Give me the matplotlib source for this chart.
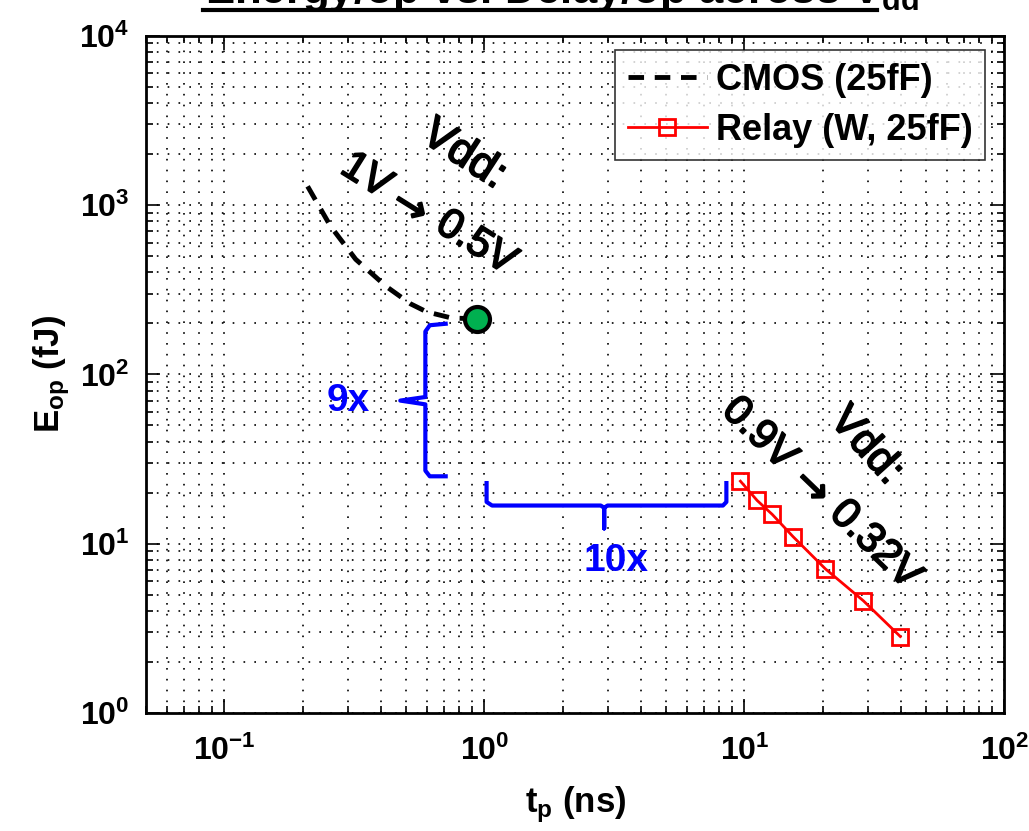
import matplotlib
matplotlib.use("Agg")
import matplotlib.pyplot as plt
import matplotlib.patheffects as pe
from matplotlib.lines import Line2D

plt.rcParams['font.family'] = ['Liberation Sans', 'DejaVu Sans']
plt.rcParams['mathtext.fontset'] = 'custom'
plt.rcParams['mathtext.rm'] = 'Liberation Sans:bold'
plt.rcParams['mathtext.it'] = 'Liberation Sans:bold'
plt.rcParams['mathtext.bf'] = 'Liberation Sans:bold'

# CMOS (25fF): Vdd 1V -> 0.5V
cmos_tp = [0.209, 0.256, 0.32, 0.42, 0.52, 0.60, 0.75, 0.94]
cmos_e = [1290, 750, 478, 330, 261, 234, 215, 213]
# optimal point
opt_tp = [0.94]
opt_e = [213]
# Relay (W, 25fF): Vdd 0.9V -> 0.32V
relay_tp = [9.66, 11.2, 12.8, 15.4, 20.5, 28.7, 39.8]
relay_e = [23.4, 18.0, 14.9, 11.0, 7.1, 4.6, 2.83]

# bracket extents (data units)
v_brace_e = [199, 70, 25]
h_brace_t = [1.02, 2.89, 8.53]

W, H = 1029, 831
fig = plt.figure(figsize=(W / 100, H / 100), dpi=100)
ax = fig.add_axes([0.142, 0.142, 0.834, 0.815])


def px(x, y):
    return x / W, 1 - y / H


ax.loglog(cmos_tp, cmos_e, color='black', lw=3.5, dashes=(3.2, 2.2),
          label='CMOS (25fF)', zorder=3)
ax.loglog(relay_tp, relay_e, color='red', lw=2, marker='s', ms=11,
          mfc='none', mec='red', mew=2, label='Relay (W, 25fF)', zorder=3)
ax.plot(opt_tp, opt_e, 'o', ms=18, mfc='#00b050', mec='black', mew=3,
        zorder=4)

ax.set_xlim(0.05, 100)
ax.set_ylim(1, 1e4)

ax.grid(True, which='both', color='black', lw=1.2, ls=(0, (1, 5.5)))
ax.tick_params(which='both', direction='in', top=True, right=True,
               labelsize=23, width=1.2)
ax.tick_params(which='major', length=10)
ax.tick_params(axis='x', which='major', pad=16)
ax.tick_params(axis='y', which='major', pad=12)
ax.tick_params(which='minor', length=5)
for lab in ax.get_xticklabels() + ax.get_yticklabels():
    lab.set_fontweight('bold')
for sp in ax.spines.values():
    sp.set_linewidth(2)

ax.set_xlabel(r'$\mathbf{t_p}$ (ns)', fontsize=25, fontweight='bold',
              labelpad=13)
ax.set_ylabel(r'$\mathbf{E_{op}}$ (fJ)', fontsize=25, fontweight='bold',
              labelpad=5)

leg = ax.legend(loc='upper right', bbox_to_anchor=(0.978, 0.979),
                borderaxespad=0, frameon=True, fancybox=False,
                edgecolor='black', handlelength=2.2, handletextpad=0.25,
                borderpad=0.35, labelspacing=0.42,
                prop={'weight': 'bold', 'size': 26})
leg.get_frame().set_linewidth(1.2)
leg.set_zorder(5)

# Vdd annotations (pixel centres of each piece)
cmos_rot, relay_rot = -32, -44
heavy = [pe.withStroke(linewidth=1.3, foreground='black')]
for s, (x, y), r, size, fam in [
        ('Vdd:', (464, 155), -33, 32, None),
        ('1V', (366, 176), cmos_rot, 30, None),
        ('\u2192', (410, 207), cmos_rot, 30, 'DejaVu Sans'),
        ('0.5V', (476, 243), cmos_rot, 30, None),
        ('Vdd:', (866, 446), -48, 31, None),
        ('0.9V', (759, 434), relay_rot, 30, None),
        ('\u2192', (812, 487), relay_rot, 30, 'DejaVu Sans'),
        ('0.32V', (875, 545), relay_rot, 30, None)]:
    kw = {'family': fam} if fam else {}
    fig.text(*px(x, y), s, fontsize=size, rotation=r, ha='center',
             va='center', rotation_mode='anchor', path_effects=heavy, **kw)

# vertical brace (9x)
top, mid, bot = v_brace_e
xv, xo, xn = 0.593, 0.71, 0.475
ax.plot([xo, xv * 1.04, xv, xv, xn, xv, xv, xv * 1.04, xo],
        [top, top * 0.98, top * 0.9, mid * 1.05, mid, mid * 0.95,
         bot * 1.08, bot, bot], color='blue', lw=3, zorder=3)
ax.text(0.30, mid, '9x', color='blue', fontsize=28, fontweight='bold',
        ha='center', va='center')

# horizontal brace (10x)
left, cen, right = h_brace_t
yo, yh, yn = 22.8, 16.8, 12.3
ax.plot([left, left, left * 1.05, cen * 0.97, cen, cen, cen, cen * 1.03,
         right * 0.97, right, right],
        [yo, yh * 1.05, yh, yh, yh * 0.97, yn, yh * 0.97, yh, yh,
         yh * 1.05, yo], color='blue', lw=3, zorder=3)
ax.text(3.2, 7.9, '10x', color='blue', fontsize=28, fontweight='bold',
        ha='center', va='center')

# title (cut off at top like the original)
fig.text(*px(205, 3), r'Energy/op vs. Delay/op across V$_{\mathbf{dd}}$',
         fontsize=31.5, fontweight='bold', ha='left', va='baseline')
fig.add_artist(Line2D([203 / W, 877 / W], [1 - 9.5 / H] * 2, color='black',
                      lw=3, transform=fig.transFigure))

fig.savefig('out.png', dpi=100)
